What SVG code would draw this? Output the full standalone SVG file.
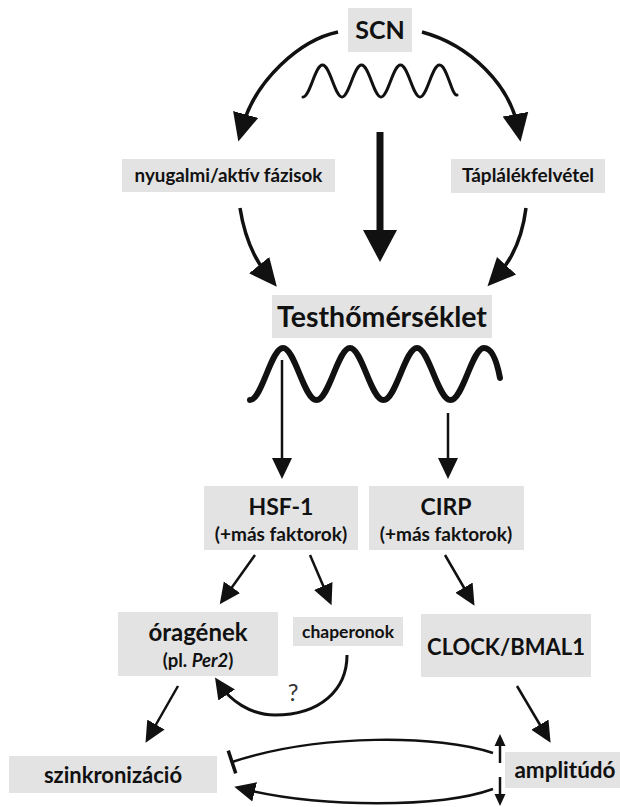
<svg xmlns="http://www.w3.org/2000/svg" width="620" height="807" viewBox="0 0 620 807">
<defs>
<style>
.box{fill:#e3e3e3}
.t{font-family:Lato,"Open Sans",sans-serif;font-weight:700;fill:#111;text-anchor:middle}
.c{fill:none;stroke:#111;stroke-linecap:butt}
.w{fill:none;stroke:#111;stroke-linecap:round}
</style>
<marker id="ahL" markerUnits="userSpaceOnUse" markerWidth="30" markerHeight="30" viewBox="0 0 30 30" refX="14" refY="15" orient="auto"><path d="M0,2 L28,15 L0,28 Z" fill="#111"/></marker>
<marker id="ahC" markerUnits="userSpaceOnUse" markerWidth="34" markerHeight="36" viewBox="0 0 34 36" refX="8" refY="18" orient="auto"><path d="M0,1 L32,18 L0,35 Z" fill="#111"/></marker>
<marker id="ahM" markerUnits="userSpaceOnUse" markerWidth="22" markerHeight="22" viewBox="0 0 22 22" refX="12" refY="11" orient="auto"><path d="M0,1 L21,11 L0,21 Z" fill="#111"/></marker>
<marker id="ahS" markerUnits="userSpaceOnUse" markerWidth="12" markerHeight="12" viewBox="0 0 12 12" refX="6" refY="6" orient="auto"><path d="M0,0.5 L12,6 L0,11.5 Z" fill="#111"/></marker>
<marker id="bar" markerUnits="userSpaceOnUse" markerWidth="6" markerHeight="26" viewBox="0 0 6 26" refX="3" refY="13" orient="auto"><path d="M3,1 L3,25" stroke="#111" stroke-width="3.5"/></marker>
</defs>
<rect width="620" height="807" fill="#fff"/>

<g id="scn">
<rect class="box" x="348" y="8" width="64" height="44"/>
<text class="t" x="380" y="39" font-size="25">SCN</text>
<path class="w" stroke-width="3" d="M303,97 C310,97 315,65 322.5,65 C330,65 335,97 342,97 C349,97 354,65 361.5,65 C369,65 374,97 381,97 C388,97 393,65 400.5,65 C408,65 413,97 420,97 C427,97 432,65 439.5,65 C447,65 452,97 457,95"/>
</g>

<g id="nyugalmi">
<rect class="box" x="122" y="159" width="213" height="33"/>
<text class="t" x="228.5" y="182" font-size="18.8">nyugalmi/aktív fázisok</text>
</g>

<g id="taplalek">
<rect class="box" x="451" y="159" width="154" height="34"/>
<text class="t" x="528" y="182" font-size="19">Táplálékfelvétel</text>
</g>

<g id="testho">
<rect class="box" x="272" y="295" width="220" height="43"/>
<text class="t" x="382" y="327" font-size="28.5">Testhőmérséklet</text>
<path class="w" stroke-width="6" d="M250,400 C262,400 271,348 283,348 C295,348 304,400 316.5,400 C329,400 338,348 350,348 C362,348 371,400 383.5,400 C396,400 405,348 417,348 C429,348 438,400 450.5,400 C463,400 472,348 484,348 C492,348 497,362 500,378"/>
</g>

<g id="hsf1">
<rect class="box" x="204" y="486" width="154" height="64"/>
<text class="t" x="281" y="515" font-size="23">HSF-1</text>
<text class="t" x="281" y="541" font-size="19">(+más faktorok)</text>
</g>

<g id="cirp">
<rect class="box" x="369" y="486" width="155" height="64"/>
<text class="t" x="446" y="515" font-size="23">CIRP</text>
<text class="t" x="446" y="541" font-size="19">(+más faktorok)</text>
</g>

<g id="oragenek">
<rect class="box" x="118" y="612" width="160" height="64"/>
<text class="t" x="198" y="641" font-size="24">óragének</text>
<text class="t" x="198" y="667" font-size="18.5">(pl. <tspan font-style="italic">Per2</tspan>)</text>
</g>

<g id="chaperonok">
<rect class="box" x="293" y="617" width="110" height="29"/>
<text class="t" x="348" y="637.5" font-size="17.5">chaperonok</text>
</g>

<g id="clock">
<rect class="box" x="421" y="614" width="170" height="63"/>
<text class="t" x="506" y="655" font-size="22">CLOCK/BMAL1</text>
</g>

<g id="szinkron">
<rect class="box" x="9" y="756" width="208" height="37"/>
<text class="t" x="113" y="783" font-size="22">szinkronizáció</text>
</g>

<g id="amplitudo">
<rect class="box" x="505" y="752" width="115" height="36"/>
<text class="t" x="565" y="778" font-size="22.5">amplitúdó</text>
</g>

<g id="connectors">
<path class="c" stroke-width="3.5" d="M338,32 C300,40 255,80 242,128" marker-end="url(#ahL)"/>
<path class="c" stroke-width="3.5" d="M422,32 C470,45 510,85 518,128" marker-end="url(#ahL)"/>
<path class="c" stroke-width="7" d="M380,132 L380,238" marker-end="url(#ahC)"/>
<path class="c" stroke-width="3.5" d="M240,208 C245,240 255,260 268,276" marker-end="url(#ahL)"/>
<path class="c" stroke-width="3.5" d="M526,208 C522,240 510,262 497,276" marker-end="url(#ahL)"/>
<path class="c" stroke-width="2.5" d="M282,360 L282,470" marker-end="url(#ahM)"/>
<path class="c" stroke-width="2.5" d="M448,413 L448,470" marker-end="url(#ahM)"/>
<path class="c" stroke-width="2.5" d="M255,555 L225,597" marker-end="url(#ahM)"/>
<path class="c" stroke-width="2.5" d="M310,555 L328,597" marker-end="url(#ahM)"/>
<path class="c" stroke-width="2.5" d="M445,555 L470,598" marker-end="url(#ahM)"/>
<path class="c" stroke-width="3" d="M347,655 C347,690 320,715 275,715 C250,715 230,700 220,685" marker-end="url(#ahM)"/>
<text x="293" y="701" font-family="Lato, Open Sans, sans-serif" font-size="24" fill="#333" text-anchor="middle">?</text>
<path class="c" stroke-width="2.5" d="M178,686 L150,735" marker-end="url(#ahM)"/>
<path class="c" stroke-width="2.5" d="M517,686 L546,735" marker-end="url(#ahM)"/>
<path class="c" stroke-width="2.5" d="M493,753 C440,735 320,733 232,762" marker-end="url(#bar)"/>
<path class="c" stroke-width="2.5" d="M493,789 C440,808 320,808 243,789" marker-end="url(#ahM)"/>
<path class="c" stroke-width="2.5" d="M500,763 L500,740" marker-end="url(#ahS)"/>
<path class="c" stroke-width="2.5" d="M500,777 L500,800" marker-end="url(#ahS)"/>
</g>
</svg>
